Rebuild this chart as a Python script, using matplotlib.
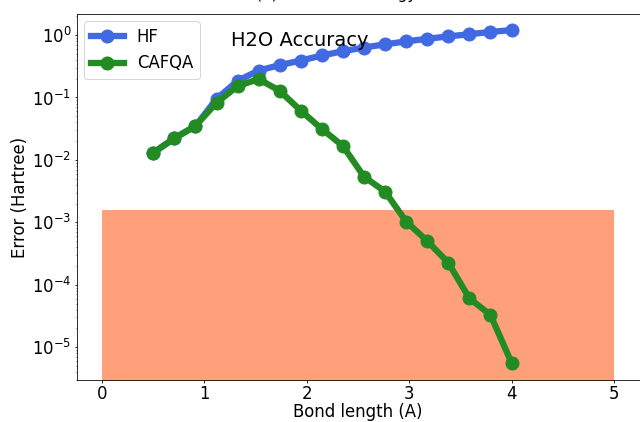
import numpy as np
import matplotlib
matplotlib.use("Agg")
import matplotlib.pyplot as plt

bond_lengths = [0.5, 0.706, 0.912, 1.118, 1.324, 1.529, 1.735, 1.941, 2.147,
                2.353, 2.559, 2.765, 2.971, 3.176, 3.382, 3.588, 3.794, 4.0]
hf_error = [0.013, 0.0222, 0.0349, 0.095, 0.185, 0.27, 0.33, 0.39, 0.47,
            0.55, 0.63, 0.71, 0.79, 0.87, 0.95, 1.03, 1.12, 1.2]
cafqa_error = [0.013, 0.0222, 0.0349, 0.0824, 0.152, 0.197, 0.128, 0.0614, 0.0313,
               0.0167, 0.00538, 0.0031, 0.00103, 0.000503, 0.000226, 6.08e-5,
               3.29e-5, 5.66e-6]
chem_acc = 1.6e-3
region_x = [0, 5]

DPI = 72
fig = plt.figure(figsize=(640/DPI, 422/DPI), dpi=DPI)
ax = fig.add_axes([76.5/640, 1-380/422, (639.5-76.5)/640, (380-14)/422])

ax.fill_between(region_x, 1e-7, chem_acc, color='lightsalmon', zorder=1, linewidth=0)
ax.plot(bond_lengths, hf_error, '-o', color='royalblue', lw=6.3, ms=13, label='HF', zorder=2)
ax.plot(bond_lengths, cafqa_error, '-o', color='forestgreen', lw=6.3, ms=13, label='CAFQA', zorder=3)

ax.set_yscale('log')
ax.set_ylim(2.99e-6, 2.17)
ax.set_xlim(-0.25, 5.25)
ax.tick_params(which='major', labelsize=16.5, length=2.5, pad=2.5)
ax.tick_params(which='minor', length=1.5)
ax.set_xlabel('Bond length (A)', fontsize=16.5, labelpad=0)
ax.set_ylabel('Error (Hartree)', fontsize=16.5, labelpad=3)
ax.text(231, 422-46, 'H2O Accuracy', fontsize=19.5, transform=None, va='baseline', ha='left')
ax.legend(loc='upper left', fontsize=16.5, handleheight=0.6, borderaxespad=0.45)

fig.text(256/640, 1 + 0.5/422, '(a) H2O Total Energy', fontsize=15.5, ha='left', va='baseline')

fig.savefig('out.png', dpi=DPI)
